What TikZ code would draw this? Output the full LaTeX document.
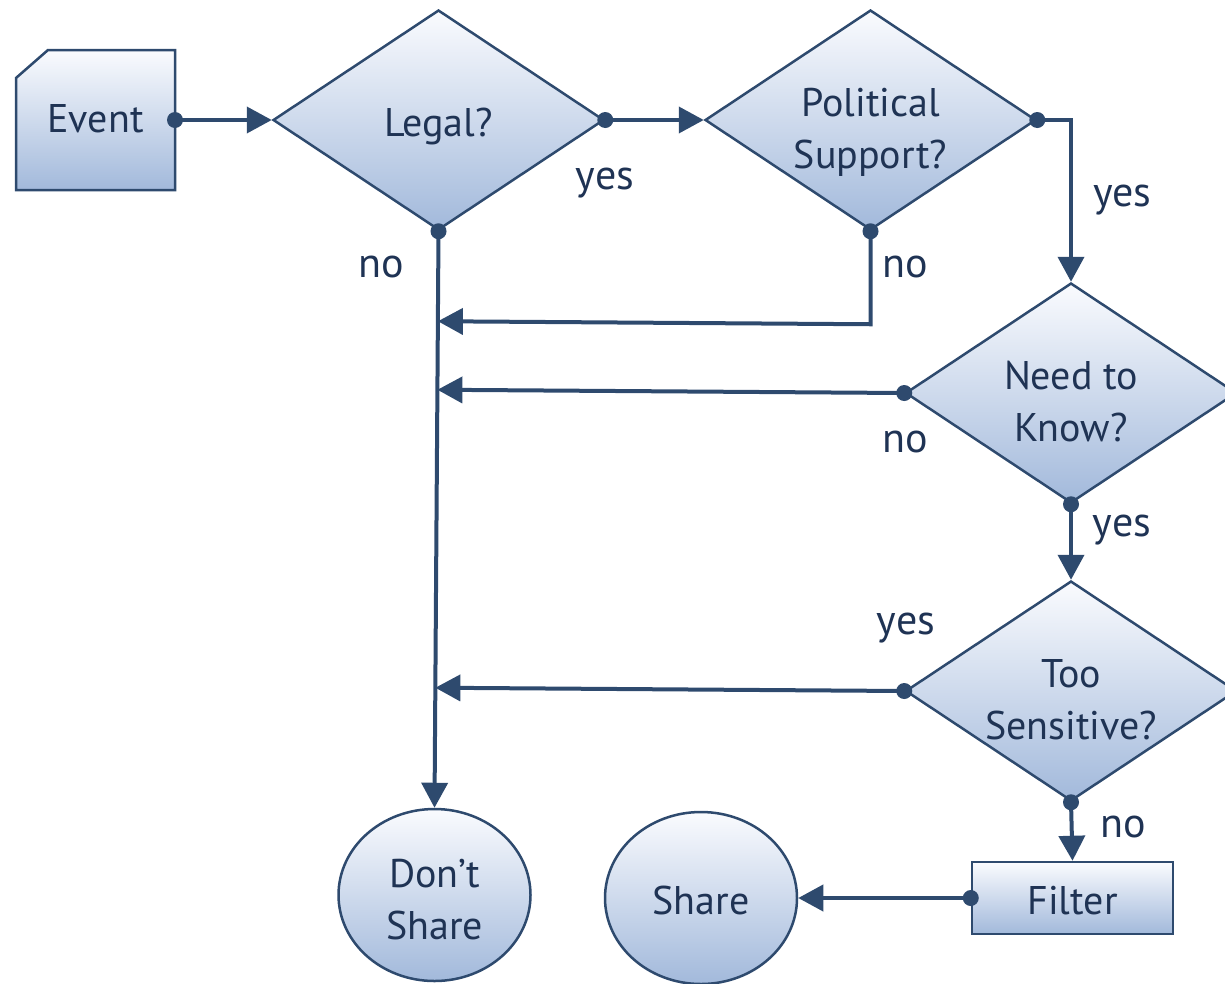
\documentclass[tikz,border=0pt]{standalone}
\usepackage{fontspec}
\setmainfont{PT Sans}
\usetikzlibrary{shapes.geometric,arrows.meta,calc,backgrounds}
\definecolor{edge}{HTML}{2E4A6E}
\definecolor{ink}{HTML}{1F3354}
\definecolor{filltop}{HTML}{FAFBFE}
\definecolor{fillbot}{HTML}{A2B9DB}

\begin{document}
\begin{tikzpicture}[x=1pt,y=-1pt,
  textbase/.style={text=ink, font=\fontsize{40}{52}\selectfont, align=center, inner sep=0pt},
  shapebase/.style={textbase, draw=edge, line width=2.5pt, top color=filltop, bottom color=fillbot},
  oneline/.style={text height=33pt, text depth=0pt},
  twoline/.style={text height=97pt, text depth=0pt},
  decision/.style={shapebase, diamond, minimum width=331pt, minimum height=220pt, aspect=1.5},
  terminal/.style={shapebase, ellipse, minimum width=192pt, minimum height=172pt},
  process/.style={shapebase, rectangle, minimum width=201pt, minimum height=72pt},
  eventbox/.style={textbase, rectangle, outer sep=0pt, minimum width=159pt, minimum height=140pt,
    text height=25pt, text depth=0pt},
  eventskin/.style={draw=edge, line width=2.5pt, top color=filltop, bottom color=fillbot},
  flow/.style={draw=edge, line width=4pt, -{Triangle[length=25pt,width=26pt]}},
  joint/.style={fill=edge},
  answer/.style={text=ink, font=\fontsize{42}{44}\selectfont, inner sep=0pt, anchor=base}
]
\useasboundingbox (0,0) rectangle (1225,983);

% shapes
\node[eventbox] (event) at (95.5,120) {Event};
\begin{scope}[on background layer]
  \shadedraw[eventskin] ([yshift=-28pt]event.north west) -- ([xshift=32pt]event.north west)
    -- (event.north east) -- (event.south east) -- (event.south west) -- cycle;
\end{scope}
\node[decision, oneline] (legal) at (438.5,120) {Legal?};
\node[decision, twoline] (pol) at (870.5,120) {Political\\Support?};
\node[decision, twoline] (need) at (1071,393) {Need to\\Know?};
\node[decision, twoline] (sens) at (1071,691) {Too\\Sensitive?};
\node[terminal, twoline, text height=89pt] (dont) at (434.5,895) {Don’t\\Share};
\node[terminal, oneline] (share) at (701,898) {Share};
\node[process, oneline] (filter) at (1072.5,898) {Filter};

% connectors
\coordinate (pbend) at ($(pol.south)+(0,93)$);
\draw[flow] (event.east) -- (legal.west);
\draw[flow] (legal.east) -- (pol.west);
\draw[flow] (legal.south) -- (dont.north);
\draw[flow] (pol.south) -- (pbend) -- ($(legal.south)!(pbend)!(dont.north)$);
\draw[flow] (pol.east) -| (need.north);
\draw[flow] (need.west) -- ($(legal.south)!(need.west)!(dont.north)$);
\draw[flow] (need.south) -- (sens.north);
\draw[flow] (sens.west) -- ($(legal.south)!(sens.west)!(dont.north)$);
\draw[flow] (sens.south) -- (filter.north);
\draw[flow] (filter.west) -- (share.east);

% connection dots
\foreach \p in {event.east, legal.east, legal.south, pol.east, pol.south,
                need.west, need.south, sens.west, sens.south, filter.west}
  \fill[joint] (\p) circle[radius=8pt];

% answer labels (placed by baseline)
\node[answer] (l1) at (605,189) {yes};
\node[answer] (l2) at (381.5,277) {no};
\node[answer] (l3) at (905,277) {no};
\node[answer] (l4) at (1122.5,206) {yes};
\node[answer] (l5) at (905,452) {no};
\node[answer] (l6) at (1122,536) {yes};
\node[answer] (l7) at (906,634) {yes};
\node[answer] (l8) at (1123,837) {no};
\end{tikzpicture}
\end{document}
